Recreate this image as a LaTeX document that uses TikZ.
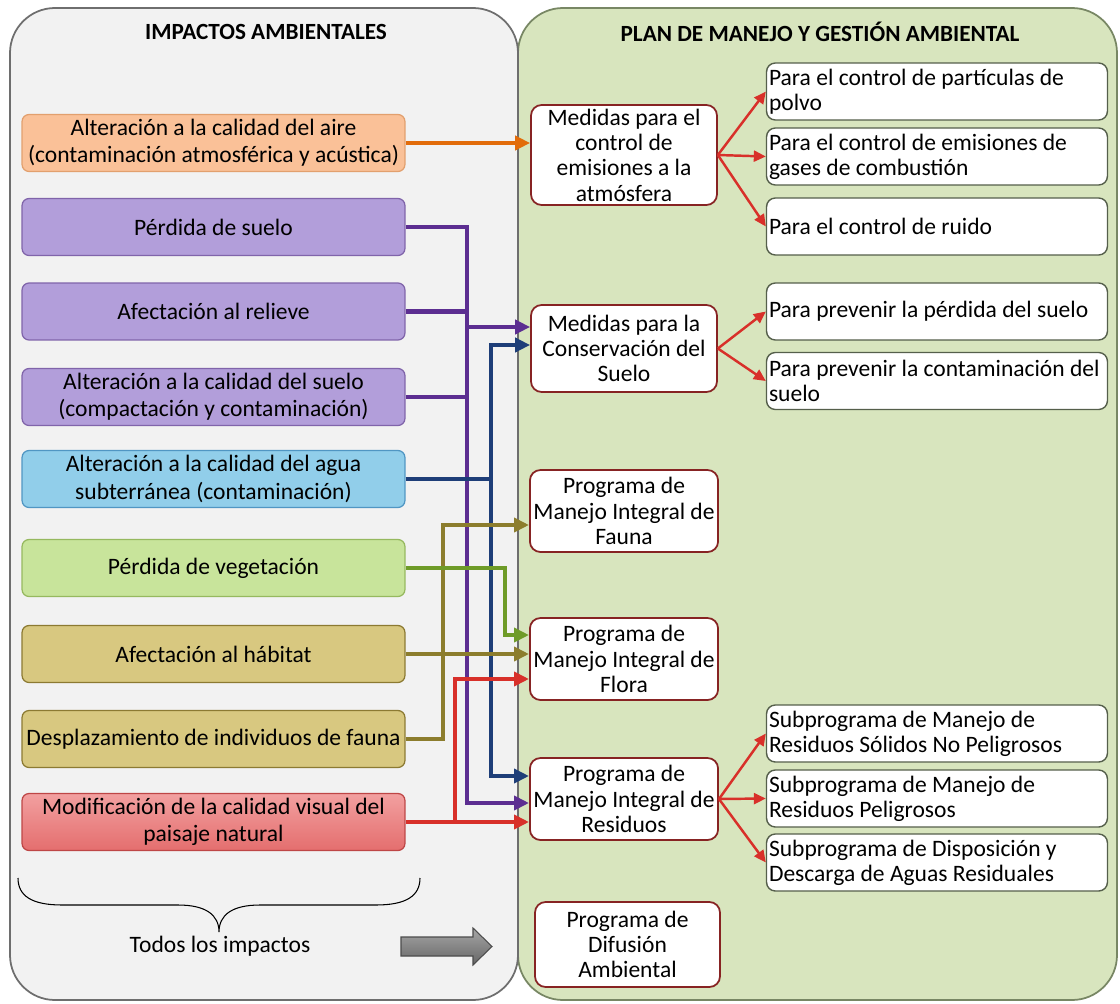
\documentclass[tikz,border=0pt]{standalone}
\usepackage{fontspec}
\setmainfont{Carlito}
\usepackage{tikz}
\usetikzlibrary{arrows.meta, calc}
\definecolor{panelgray}{RGB}{242,242,242}
\definecolor{grayedge}{RGB}{110,110,110}
\definecolor{panelgreen}{RGB}{216,229,190}
\definecolor{greenedge}{RGB}{120,135,100}
\definecolor{boxred}{RGB}{135,35,35}
\definecolor{boxedge}{RGB}{85,95,75}
\definecolor{airefill}{RGB}{250,193,152}
\definecolor{aireedge}{RGB}{226,160,110}
\definecolor{suelofill}{RGB}{178,158,218}
\definecolor{sueloedge}{RGB}{128,100,170}
\definecolor{aguafill}{RGB}{145,206,234}
\definecolor{aguaedge}{RGB}{80,150,195}
\definecolor{vegfill}{RGB}{200,228,155}
\definecolor{vegedge}{RGB}{150,185,95}
\definecolor{faunafill}{RGB}{216,200,128}
\definecolor{faunaedge}{RGB}{140,122,50}
\definecolor{paisajetop}{RGB}{242,160,160}
\definecolor{paisajebot}{RGB}{228,110,110}
\definecolor{paisajeedge}{RGB}{190,70,70}
\definecolor{linkorange}{RGB}{226,108,10}
\definecolor{linkpurple}{RGB}{92,46,145}
\definecolor{linknavy}{RGB}{30,62,120}
\definecolor{linkolive}{RGB}{140,125,45}
\definecolor{linkgreen}{RGB}{110,155,40}
\definecolor{linkred}{RGB}{216,48,42}

\begin{document}
\begin{tikzpicture}[x=0.02cm, y=-0.02cm,
    font=\fontsize{13.4}{14.4}\selectfont,
    impact/.style={rounded corners=4pt, line width=0.7pt, minimum width=7.66cm,
      minimum height=1.14cm, align=center, inner sep=2pt,
      font=\fontsize{13.4}{15.6}\selectfont},
    measure/.style={draw=boxred, fill=white, rounded corners=6pt, line width=1pt,
      minimum width=3.72cm, align=center, inner sep=2pt},
    action/.style={draw=boxedge, fill=white, rounded corners=5pt, line width=0.8pt,
      text width=6.72cm, minimum height=1.14cm, align=flush left, inner sep=0.05cm},
    bus/.style={line width=2.3pt, draw=#1},
    link/.style={line width=2.3pt, draw=#1, -{Triangle[length=0.3cm, width=0.28cm]}},
    branch/.style={line width=1.4pt, draw=linkred, -{Triangle[length=0.24cm, width=0.22cm]}}]

  \useasboundingbox (0,0) rectangle (1120,1004);

  % the two panels
  \draw[draw=greenedge, fill=panelgreen, line width=1pt, rounded corners=0.9cm]
    (518,8) rectangle (1117,1000);
  \draw[draw=grayedge, fill=panelgray, line width=1pt, rounded corners=0.9cm]
    (10,8) rectangle (518,1000);

  \node[font=\fontsize{13.2}{15}\selectfont\bfseries] (tleft) at (266,32) {IMPACTOS AMBIENTALES};
  \node[font=\fontsize{13.2}{15}\selectfont\bfseries] (tright) at (820,32) {PLAN DE MANEJO Y GESTIÓN AMBIENTAL};

  % impacts
  \node[impact, fill=airefill, draw=aireedge] (aire) at (213.5,143)
    {Alteración a la calidad del aire\\(contaminación atmosférica y acústica)};
  \node[impact, fill=suelofill, draw=sueloedge] (perdida) at (213.5,227) {Pérdida de suelo};
  \node[impact, fill=suelofill, draw=sueloedge] (relieve) at (213.5,311.5) {Afectación al relieve};
  \node[impact, fill=suelofill, draw=sueloedge] (sueloq) at (213.5,397)
    {Alteración a la calidad del suelo\\(compactación y contaminación)};
  \node[impact, fill=aguafill, draw=aguaedge] (agua) at (213.5,479)
    {Alteración a la calidad del agua\\subterránea (contaminación)};
  \node[impact, fill=vegfill, draw=vegedge] (veg) at (213.5,568) {Pérdida de vegetación};
  \node[impact, fill=faunafill, draw=faunaedge] (habitat) at (213.5,654) {Afectación al hábitat};
  \node[impact, fill=faunafill, draw=faunaedge] (despl) at (213.5,739)
    {Desplazamiento de individuos de fauna};
  \node[impact, top color=paisajetop, bottom color=paisajebot, draw=paisajeedge] (paisaje) at (213.5,822)
    {Modificación de la calidad visual del\\paisaje natural};

  % measures
  \node[measure, minimum height=2cm] (medA) at (624,155)
    {Medidas para el\\control de\\emisiones a la\\atmósfera};
  \node[measure, minimum height=1.74cm] (conserv) at (624,348.5)
    {Medidas para la\\Conservación del\\Suelo};
  \node[measure, minimum height=1.64cm] (fauna) at (624,511)
    {Programa de\\Manejo Integral de\\Fauna};
  \node[measure, minimum height=1.64cm] (flora) at (624,659)
    {Programa de\\Manejo Integral de\\Flora};
  \node[measure, minimum height=1.64cm] (residuos) at (624,799)
    {Programa de\\Manejo Integral de\\Residuos};
  \node[measure, minimum height=1.7cm, minimum width=3.7cm] (difusion) at (627.5,944.5)
    {Programa de\\Difusión\\Ambiental};

  % actions
  \node[action] (polvo) at (937,91.5) {Para el control de partículas de\\polvo};
  \node[action] (gases) at (937,156.5) {Para el control de emisiones de\\gases de combustión};
  \node[action] (ruido) at (937,226.5) {Para el control de ruido};
  \node[action] (prevA) at (937,311.5) {Para prevenir la pérdida del suelo};
  \node[action] (prevB) at (937,381) {Para prevenir la contaminación del\\suelo};
  \node[action] (subA) at (937,733.5) {Subprograma de Manejo de\\Residuos Sólidos No Peligrosos};
  \node[action] (subB) at (937,798.5) {Subprograma de Manejo de\\Residuos Peligrosos};
  \node[action] (subC) at (937,862.5) {Subprograma de Disposición y\\Descarga de Aguas Residuales};

  \foreach \t in {polvo, gases, ruido} \draw[branch] (medA.east) -- (\t.west);
  \foreach \t in {prevA, prevB} \draw[branch] (conserv.east) -- (\t.west);
  \foreach \t in {subA, subB, subC} \draw[branch] (residuos.east) -- (\t.west);

  % entry points and bus lines
  \coordinate (inB1) at ([yshift=0.43cm]conserv.west);
  \coordinate (inB2) at ([yshift=0.07cm]conserv.west);
  \coordinate (inC) at ([yshift=-0.28cm]fauna.west);
  \coordinate (inD1) at ([yshift=0.48cm]flora.west);
  \coordinate (inD3) at ([yshift=-0.40cm]flora.west);
  \coordinate (inE1) at ([yshift=0.46cm]residuos.west);
  \coordinate (inE2) at ([yshift=-0.08cm]residuos.west);
  \coordinate (xO) at (443,0);
  \coordinate (xR) at (455,0);
  \coordinate (xP) at (467,0);
  \coordinate (xN) at (491,0);
  \coordinate (xG) at (505,0);

  \draw[link=linkorange] (aire.east) -- (aire.east -| medA.west);

  \draw[link=linkpurple] (perdida.east) -| (xP |- inE2) -- (inE2);
  \draw[bus=linkpurple] (relieve.east) -- (relieve.east -| xP);
  \draw[bus=linkpurple] (sueloq.east) -- (sueloq.east -| xP);
  \draw[link=linkpurple] (xP |- inB1) -- (inB1);

  \draw[link=linknavy] (agua.east) -| (xN |- inE1) -- (inE1);
  \draw[link=linknavy] (agua.east -| xN) |- (inB2);

  \draw[link=linkolive] (despl.east) -| (xO |- inC) -- (inC);
  \draw[link=linkolive] (habitat.east) -- (habitat.east -| flora.west);

  \draw[link=linkgreen] (veg.east) -| (xG |- inD1) -- (inD1);

  \draw[link=linkred] (paisaje.east) -- (paisaje.east -| residuos.west);
  \draw[link=linkred] (paisaje.east -| xR) |- (inD3);

  % all impacts
  \draw[line width=0.6pt] (18,878) .. controls (18,896) and (32,905) .. (62,905) -- (178,905)
    .. controls (206,905) and (219,915) .. (219,932)
    .. controls (219,915) and (232,905) .. (260,905) -- (376,905)
    .. controls (406,905) and (420,896) .. (420,878);
  \node (todos) at (220,946) {Todos los impactos};
  \draw[draw=black!70, top color=black!35, bottom color=black!60, line width=0.6pt]
    (401,937) -- (473,937) -- (473,928) -- (492,946.5) -- (473,965) -- (473,956) -- (401,956) -- cycle;
\end{tikzpicture}
\end{document}
